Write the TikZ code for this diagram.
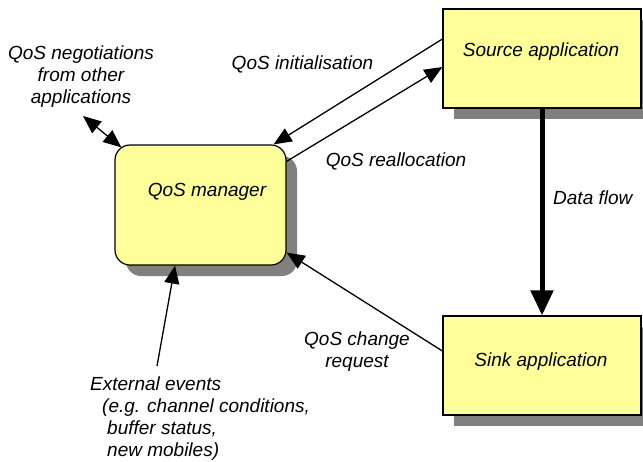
\documentclass[tikz,border=0pt]{standalone}
\usepackage{fontspec}
\setmainfont{Liberation Sans}
\usetikzlibrary{arrows.meta,shadows}
\definecolor{boxyellow}{RGB}{255,255,153}
\definecolor{shadowgray}{RGB}{128,128,128}
\begin{document}
\begin{tikzpicture}[x=1pt,y=-1pt,
  box/.style={draw=black,line width=1.2pt,fill=boxyellow,inner sep=0pt,
    drop shadow={shadow xshift=11pt,shadow yshift=-11pt,fill=shadowgray,opacity=1}},
  lbl/.style={font=\fontsize{19}{22}\selectfont\itshape,inner sep=0pt},
  conn/.style={line width=1.3pt,-{Triangle[length=18pt,width=15pt]}}]
\useasboundingbox (0,0) rectangle (643,461);
% boxes
\node[box,minimum width=198pt,minimum height=99pt] (src) at (542,58.5) {};
\node[box,minimum width=198pt,minimum height=99pt] (snk) at (542,365.5) {};
\node[box,rounded corners=15pt,minimum width=171pt,minimum height=120pt] (mgr) at (200.5,205) {};
% box texts
\node[lbl] (srct) at (541,52) {Source application};
\node[lbl] (snkt) at (541,362) {Sink application};
\node[lbl] (mgrt) at (207,192) {QoS manager};
% data flow
\draw[line width=5pt,-{Triangle[length=25pt,width=22pt]}] (src.south) -- (snk.north);
\node[lbl,anchor=west] (dft) at (553,198) {Data flow};
% QoS initialisation / reallocation
\draw[conn] ([yshift=19.5pt]src.west) -- ([xshift=-13pt]mgr.north east);
\node[lbl] (init) at (302.5,64) {QoS initialisation};
\draw[conn] ([yshift=-17pt]mgr.north east) -- ([yshift=-8.5pt]src.west);
\node[lbl] (realloc) at (396,161) {QoS reallocation};
% change request
\draw[conn] ([yshift=14.5pt]snk.west) -- ([yshift=13pt]mgr.south east);
\node[lbl,align=center] (chg) at (357,352) {QoS change\\request};
% negotiations
\node[lbl,align=center] (neg) at (81,77) {QoS negotiations\\from other\\applications};
\coordinate (negend) at (83,116);
\draw[line width=1.3pt,{Triangle[length=18pt,width=15pt]}-{Triangle[length=18pt,width=15pt]}] (negend) -- ([shift={(7pt,-3pt)}]mgr.north west);
% external events
\coordinate (extend) at (157,366);
\draw[conn] (extend) -- ([xshift=-25.5pt]mgr.south);
\node[lbl,align=left,anchor=west] (ext) at (90,419) {External events\\\hspace*{12pt}(e.g. channel conditions,\\\hspace*{17pt}buffer status,\\\hspace*{17pt}new mobiles)};
\end{tikzpicture}
\end{document}
